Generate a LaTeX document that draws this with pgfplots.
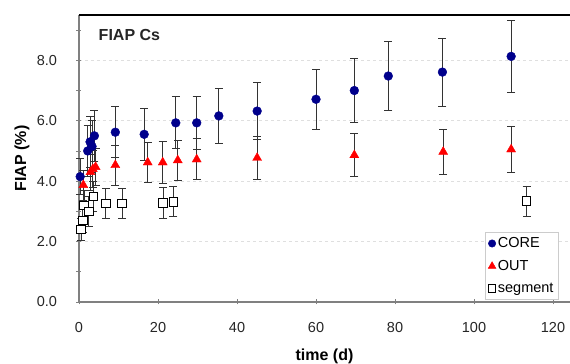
\documentclass[border=0pt]{standalone}
\usepackage{fontspec}
\setmainfont{Liberation Sans}
\usepackage{pgfplots}
\pgfplotsset{compat=1.18}
\usepackage{pgfplotstable}

\definecolor{coreblue}{rgb}{0.0,0.0,0.55}

\pgfplotstableread{
x y e
0.3 4.15 0.6
2.2 5.0 0.85
2.8 5.3 0.85
3.3 5.15 0.85
3.9 5.5 0.85
9.2 5.62 0.85
16.5 5.55 0.85
24.5 5.93 0.86
29.8 5.93 0.88
35.4 6.16 0.9
45.1 6.32 0.95
60 6.71 1.0
69.7 7.0 1.05
78.3 7.48 1.13
92 7.61 1.13
109.4 8.13 1.2
}\core

\pgfplotstableread{
x y e
1.1 3.87 0.5
2.9 4.3 0.6
3.5 4.4 0.6
4.2 4.47 0.6
9.2 4.53 0.66
17.4 4.62 0.65
21.2 4.62 0.7
25.0 4.69 0.66
29.8 4.72 0.68
45.1 4.77 0.72
69.7 4.86 0.72
92.2 4.97 0.75
109.4 5.05 0.75
}\out

\pgfplotstableread{
x y e
0.5 2.4 0.35
1.0 2.7 0.4
1.3 3.2 0.5
2.5 3.0 0.5
3.6 3.5 0.5
6.8 3.26 0.5
10.9 3.26 0.5
21.3 3.28 0.5
23.9 3.32 0.5
113.3 3.34 0.5
}\seg

\begin{document}
\begin{tikzpicture}
\begin{axis}[
  scale only axis, width=491pt, height=287pt,
  xmin=0, xmax=124.3, ymin=0, ymax=9.5,
  clip=false,
  axis x line*=bottom, axis y line*=left,
  axis line style={gray, line width=1.2pt},
  xtick={0,20,...,120}, ytick={0,2,...,8},
  minor ytick={1,3,5,7,9},
  tick align=center,
  tick style={gray, line width=0.8pt},
  major tick length=5pt, minor tick length=5pt,
  ymajorgrids, grid style={dashed, gray!25, line width=0.8pt},
  /pgf/number format/assume math mode=true,
  yticklabel style={/pgf/number format/fixed, /pgf/number format/fixed zerofill, /pgf/number format/precision=1, xshift=-16pt},
  ticklabel style={font=\fontsize{14.5}{14.5}\selectfont, text=black!85},
  xticklabel style={yshift=-14pt},
  every axis x label/.style={at={(axis description cs:0.5,0)}, anchor=center, yshift=-54pt, font=\bfseries\fontsize{16}{16}\selectfont},
  every axis y label/.style={at={(axis description cs:0,0.5)}, anchor=center, rotate=90, yshift=57pt, font=\bfseries\fontsize{16}{16}\selectfont},
  xlabel={time (d)}, ylabel={FIAP (\%)},
  legend style={at={(0.827,0.0105)}, anchor=south west, draw=gray!40, font=\fontsize{14.5}{17}\selectfont, row sep=7pt, inner sep=3pt},
  legend cell align=left,
  legend image post style={scale=0.85},
  error bars/error bar style={black!80, line width=0.9pt},
  error bars/error mark options={rotate=90, mark size=4pt, line width=0.9pt, black!80},
]
\addplot[only marks, mark=*, mark size=4.4pt, color=coreblue, fill=coreblue,
  error bars/.cd, y dir=both, y explicit] table[x=x, y=y, y error=e] {\core};
\addlegendentry{CORE}
\addplot[only marks, mark=triangle*, mark size=5.2pt, color=red, fill=red,
  error bars/.cd, y dir=both, y explicit] table[x=x, y=y, y error=e] {\out};
\addlegendentry{OUT}
\addplot[only marks, mark=square*, mark size=4.3pt, draw=black, fill=white, mark options={line width=0.8pt},
  error bars/.cd, y dir=both, y explicit] table[x=x, y=y, y error=e] {\seg};
\addlegendentry{segment}
\draw[black, line width=2.8pt] (rel axis cs:0,1) -- (rel axis cs:1,1);
\node[anchor=west, font=\bfseries\fontsize{16}{16}\selectfont, text=black!85] at (rel axis cs:0.033,0.930) {FIAP Cs};
\end{axis}
\pgfresetboundingbox
\path ([xshift=-79pt,yshift=-62pt]current axis.south west) rectangle ([yshift=15pt]current axis.north east);
\end{tikzpicture}
\end{document}
